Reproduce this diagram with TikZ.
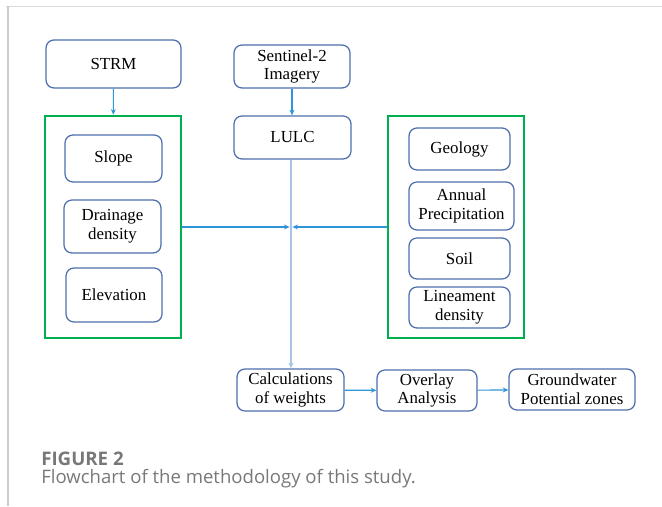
\documentclass[tikz,border=0pt]{standalone}
\usepackage{fontspec}
\setmainfont{Liberation Serif}
\newfontfamily\capfont{Open Sans}
\usepackage{tikz}
\usetikzlibrary{arrows.meta}

\begin{document}
\begin{tikzpicture}

\definecolor{c1}{HTML}{4D6FAE}
\definecolor{c2}{HTML}{00B050}
\definecolor{c3}{HTML}{2E95D8}
\definecolor{c4}{HTML}{A9C4E4}
\definecolor{c5}{HTML}{787878}

\tikzset{
  box/.style={draw=c1, line width=0.9pt, rounded corners=0.2cm, align=center,
    inner sep=0pt, font=\fontsize{12}{13.3}\selectfont},
  group/.style={draw=c2, line width=1.8pt, inner sep=0pt},
  link/.style={c3, line width=0.8pt, -{Stealth[length=4pt,width=3.5pt]}}
}

\useasboundingbox (0,0) rectangle (16.55,12.65);
\draw[line width=1.4pt, black!14] (0.15,12.4875) -- (16.55,12.4875);
\draw[line width=1pt, black!20] (0.2,12.4875) -- (0.2,0);

\node[box, minimum width=3.375cm, minimum height=1.2cm] (strm) at (2.8375,11.05) {STRM};
\node[box, minimum width=2.9cm, minimum height=1.075cm] (sentinel) at (7.3,10.9875) {Sentinel-2\\Imagery};
\node[box, minimum width=2.925cm, minimum height=1.075cm] (lulc) at (7.3125,9.2125) {LULC};

\node[group, minimum width=3.4cm, minimum height=5.55cm] (left) at (2.825,6.975) {};
\node[box, minimum width=2.425cm, minimum height=1.175cm] (slope) at (2.8375,8.6875) {Slope};
\node[box, minimum width=2.425cm, minimum height=1.325cm] (drainage) at (2.8125,6.9875) {Drainage\\density};
\node[box, minimum width=2.4cm, minimum height=1.35cm] (elevation) at (2.85,5.275) {Elevation};

\node[group, minimum width=3.4cm, minimum height=5.55cm] (right) at (11.4,6.975) {};
\node[box, minimum width=2.525cm, minimum height=1.05cm] (geology) at (11.4875,8.925) {Geology};
\node[box, minimum width=2.625cm, minimum height=1.2cm] (rain) at (11.5375,7.5) {Annual\\Precipitation};
\node[box, minimum width=2.525cm, minimum height=1.025cm] (soil) at (11.4875,6.1875) {Soil};
\node[box, minimum width=2.525cm, minimum height=1.025cm] (lineament) at (11.4875,4.9625) {Lineament\\density};

\node[box, minimum width=2.675cm, minimum height=1.05cm] (calc) at (7.2625,2.9) {Calculations\\of weights};
\node[box, minimum width=2.5cm, minimum height=1.025cm] (overlay) at (10.675,2.8875) {Overlay\\Analysis};
\node[box, minimum width=3.15cm, minimum height=1.025cm] (gwpz) at (14.3,2.9125) {Groundwater\\Potential zones};

\coordinate (mid) at (7.275,6.975);

\draw[link] (strm) -- (left);
\draw[link] (sentinel.south) -- (sentinel.south |- lulc.north);
\draw[link, c4] (mid |- lulc.south) -- (mid |- calc.north);
\draw[link] (left) -- ([xshift=-1pt]mid);
\draw[link] (right) -- ([xshift=1pt]mid);
\draw[link] (calc) -- (overlay);
\draw[link] (overlay) -- (gwpz);

\node[anchor=base west, inner sep=0pt, text=c5, font=\capfont\bfseries\fontsize{13.3}{15}\selectfont] (fig) at (1.025,1.025) {FIGURE 2};
\node[anchor=base west, inner sep=0pt, text=c5, font=\capfont\fontsize{13.2}{15}\selectfont] (caption) at (1.025,0.55) {Flowchart of the methodology of this study.};

\end{tikzpicture}
\end{document}
